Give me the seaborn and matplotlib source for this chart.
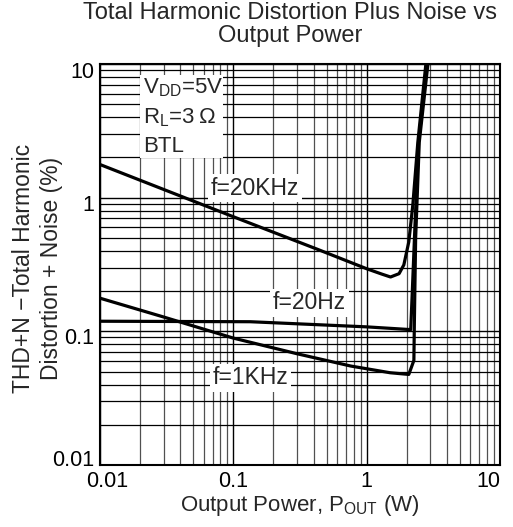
import numpy as np
import pandas as pd
import matplotlib
matplotlib.use("Agg")
import matplotlib.pyplot as plt
import matplotlib.ticker as mticker
import matplotlib.transforms as mtransforms
import seaborn as sns

# curves (power in W, THD+N in %)
p_20khz = [0.01, 0.1, 0.43, 1.0, 1.3, 1.51, 1.75, 1.9, 2.07, 2.22, 2.42, 2.78]
thd_20khz = [1.77, 0.72, 0.41, 0.294, 0.268, 0.255, 0.27, 0.314, 0.467, 0.886, 2.6, 10.0]

p_20hz = [0.01, 0.134, 1.0, 2.14, 2.2, 2.3, 2.45, 2.83]
thd_20hz = [0.119, 0.118, 0.108, 0.103, 0.2, 0.6, 2.6, 10.0]

p_1khz = [0.01, 0.03, 0.1, 0.3, 0.76, 1.5, 2.07, 2.26, 2.28, 2.33, 2.48, 2.88]
thd_1khz = [0.177, 0.128, 0.089, 0.068, 0.055, 0.049, 0.0476, 0.0606, 0.12, 0.5, 2.6, 10.0]

x_ticks = [0.01, 0.1, 1, 10]
x_ticklabels = ["0.01", "0.1", "1", "10"]
y_ticks = [0.01, 0.1, 1, 10]
y_ticklabels = ["0.01", "0.1", "1", "10"]

curve_labels = ["f=20KHz", "f=20Hz", "f=1KHz"]
label_pos = [(0.146, 1.18), (0.373, 0.163), (0.134, 0.0449)]

df = pd.concat([
    pd.DataFrame({"p": p_20khz, "thd": thd_20khz, "f": "20KHz"}),
    pd.DataFrame({"p": p_20hz, "thd": thd_20hz, "f": "20Hz"}),
    pd.DataFrame({"p": p_1khz, "thd": thd_1khz, "f": "1KHz"}),
])

sns.set_style("white")
plt.rcParams["font.family"] = ["Liberation Sans", "DejaVu Sans"]
plt.rcParams["mathtext.fontset"] = "custom"
plt.rcParams["mathtext.rm"] = "Liberation Sans"

fig = plt.figure(figsize=(5.13, 5.27), dpi=100)
ax = fig.add_axes([100 / 513, 1 - 465 / 527, 400 / 513, 401 / 527])

sns.lineplot(data=df, x="p", y="thd", units="f", estimator=None, sort=False,
             color="black", linewidth=2.3, ax=ax, zorder=3)

ax.set_xscale("log")
ax.set_yscale("log")
ax.set_xlim(0.01, 10)
ax.set_ylim(0.01, 10)

ax.xaxis.set_major_locator(mticker.FixedLocator(x_ticks))
ax.yaxis.set_major_locator(mticker.FixedLocator(y_ticks))
ax.xaxis.set_major_formatter(mticker.FixedFormatter(x_ticklabels))
ax.yaxis.set_major_formatter(mticker.FixedFormatter(y_ticklabels))
ax.xaxis.set_minor_locator(mticker.LogLocator(base=10, subs=np.arange(2, 10)))
ax.yaxis.set_minor_locator(mticker.LogLocator(base=10, subs=np.arange(2, 10)))
ax.xaxis.set_minor_formatter(mticker.NullFormatter())
ax.yaxis.set_minor_formatter(mticker.NullFormatter())

ax.grid(which="major", color="black", linewidth=1.0)
ax.grid(which="minor", axis="y", color="black", linewidth=0.9)
ax.grid(which="minor", axis="x", color="#505050", linewidth=0.9)
ax.tick_params(which="both", length=0, labelsize=15.5, colors="black")
ax.tick_params(axis="x", pad=4)
ax.tick_params(axis="y", pad=4)
for s in ax.spines.values():
    s.set_color("black")
    s.set_linewidth(1.5)

# nudge the edge tick labels inwards like the original
lbls = ax.get_xticklabels()
lbls[0].set_transform(lbls[0].get_transform() + mtransforms.ScaledTranslation(7 / 100, 0, fig.dpi_scale_trans))
lbls[-1].set_transform(lbls[-1].get_transform() + mtransforms.ScaledTranslation(-12 / 100, 0, fig.dpi_scale_trans))
ylb = ax.get_yticklabels()
shifts = [7, -5, -5, -6]
for t, sh in zip(ylb, shifts):
    t.set_transform(t.get_transform() + mtransforms.ScaledTranslation(0, sh / 100, fig.dpi_scale_trans))

ax.set_xlabel("Output Power, P$_\\mathregular{OUT}$ (W)", fontsize=16, va="center")
ax.xaxis.set_label_coords(0.5, (465 - 505) / 401)
ax.set_ylabel("THD+N \u2212Total Harmonic\nDistortion + Noise (%)", fontsize=16.5,
              va="center", linespacing=1.3)
ax.yaxis.set_label_coords((37.5 - 100) / 400, 0.49)

fig.text(290 / 513, 1 - 24.5 / 527, "Total Harmonic Distortion Plus Noise vs\nOutput Power",
         ha="center", va="center", fontsize=17, linespacing=1.05)

for txt, (px, py) in zip(curve_labels, label_pos):
    ax.text(px, py, txt, ha="center", va="center", fontsize=16.5, zorder=4,
            bbox=dict(facecolor="white", edgecolor="none", pad=2.0))

# conditions box
ax.add_patch(plt.Rectangle((0.1, 0.766), 0.2075, 0.207, transform=ax.transAxes,
                           facecolor="white", edgecolor="none", zorder=2))
cond = ["V$_\\mathregular{DD}$=5V", "R$_\\mathregular{L}$=3\u2009\u03a9", "BTL"]
cond_y = [88, 118, 147]
for txt, yy in zip(cond, cond_y):
    ax.text(0.1075, (465 - yy) / 401, txt, transform=ax.transAxes, ha="left", va="center",
            fontsize=16, zorder=4)

fig.savefig("out.png", dpi=100)
